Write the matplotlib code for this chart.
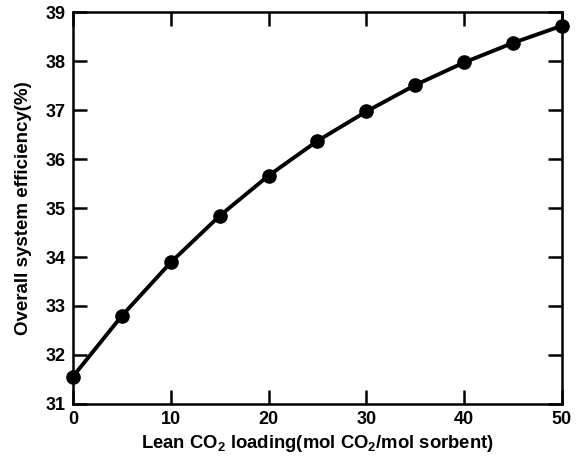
import numpy as np
import matplotlib
matplotlib.use('Agg')
import matplotlib.pyplot as plt

plt.rcParams['font.family'] = 'Liberation Sans'
plt.rcParams['font.weight'] = 'bold'
plt.rcParams['mathtext.fontset'] = 'custom'
plt.rcParams['mathtext.rm'] = 'Liberation Sans:bold'
plt.rcParams['mathtext.it'] = 'Liberation Sans:bold'
plt.rcParams['mathtext.bf'] = 'Liberation Sans:bold'

# lean CO2 loading and overall system efficiency
loading = [0, 5, 10, 15, 20, 25, 30, 35, 40, 45, 50]
efficiency = [31.56, 32.80, 33.89, 34.84, 35.66, 36.37, 36.97, 37.51, 37.97, 38.37, 38.72]

fig = plt.figure(figsize=(5.79, 4.69), dpi=100)
ax = fig.add_axes([0.126, 0.1386, 0.8446, 0.8358])

ax.plot(loading, efficiency, color='black', linewidth=2.8,
        marker='o', markersize=9.5, clip_on=False, zorder=3)

ax.set_xlim(0, 50)
ax.set_ylim(31, 39)
ax.set_xticks([0, 10, 20, 30, 40, 50])
ax.set_yticks(np.arange(31, 40, 1))

for s in ax.spines.values():
    s.set_linewidth(1.8)
ax.tick_params(direction='in', length=10, width=1.8, top=True, right=True,
               labelsize=13, pad=5)
for lab in ax.get_xticklabels() + ax.get_yticklabels():
    lab.set_fontweight('bold')

ax.set_xlabel(r'Lean CO$_2$ loading(mol CO$_2$/mol sorbent)', fontsize=13.3,
              fontweight='bold', labelpad=4)
ax.set_ylabel('Overall system efficiency(%)', fontsize=13.5,
              fontweight='bold', labelpad=10)

fig.savefig('out.png', dpi=100)
